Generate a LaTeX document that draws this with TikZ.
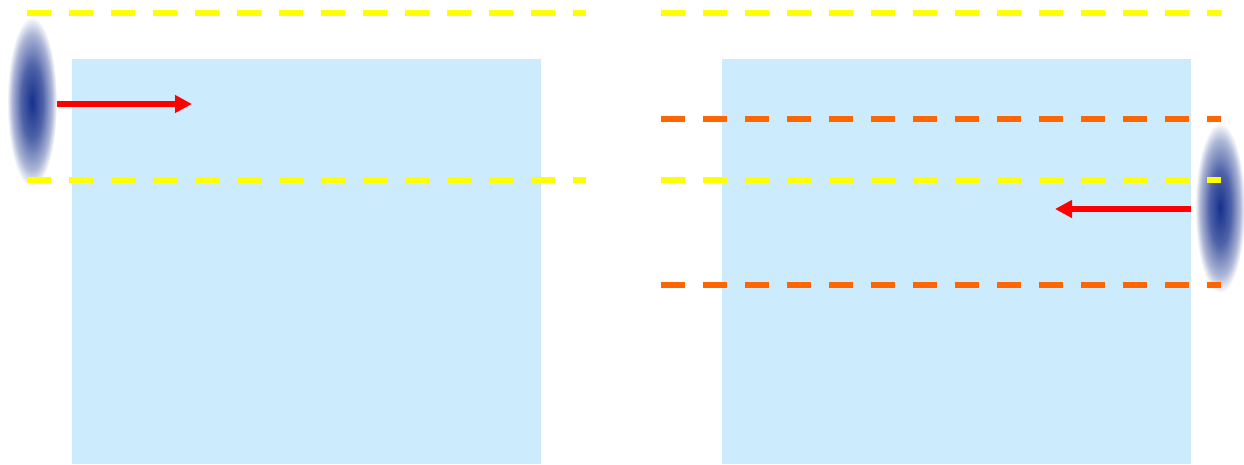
\documentclass[tikz,border=0pt]{standalone}
\usetikzlibrary{shapes.geometric,arrows.meta}
\definecolor{pool}{RGB}{204,235,252}
\definecolor{glow}{RGB}{22,48,140}
\definecolor{lineY}{RGB}{255,255,0}
\definecolor{lineO}{RGB}{255,102,0}
\pgfdeclareradialshading{glowshade}{\pgfpoint{0bp}{0bp}}{color(0bp)=(glow); color(11bp)=(glow!75!white); color(20bp)=(glow!35!white); color(25bp)=(white); color(50bp)=(white)}
\begin{document}
\begin{tikzpicture}[x=1pt, y=-1pt,
    box/.style={fill=pool, draw=none, minimum width=469pt, minimum height=405pt, inner sep=0pt, anchor=north west},
    src/.style={ellipse, shading=glowshade, minimum width=50pt, minimum height=170pt, inner sep=0pt},
    lvl/.style={line width=6pt, dash pattern=on 24pt off 18pt},
    arr/.style={-{Triangle[length=17pt,width=17pt]}, red, line width=6.5pt},
  ]
    \useasboundingbox (0,0) rectangle (1244,464);

    % === Left basin ===
    \node[box] (boxL) at (72,59) {};
    \node[src] (srcL) at (32,102) {};
    \foreach \y in {13, 180} {
      \draw[lvl, lineY] (27,\y) -- (586,\y);
    }

    % === Right basin ===
    \node[box] (boxR) at (722,59) {};
    \node[src] (srcR) at (1220,208) {};
    \foreach \y/\c in {13/lineY, 119/lineO, 180/lineY, 285/lineO} {
      \draw[lvl, \c] (661,\y) -- (1221,\y);
    }

    % Arrows
    \coordinate (tipL) at (192,104);
    \coordinate (tipR) at (1055,209);
    \draw[arr] (srcL.east |- tipL) -- (tipL);
    \draw[arr] (boxR.east |- tipR) -- (tipR);
  \end{tikzpicture}
\end{document}
